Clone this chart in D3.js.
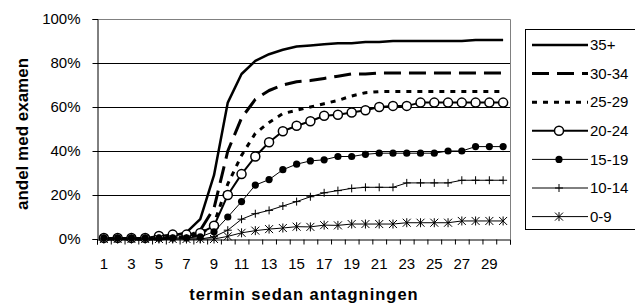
<!DOCTYPE html>
<html>
<head>
<meta charset="utf-8">
<script src="https://cdn.jsdelivr.net/npm/d3@7"></script>
<style>
  body { margin: 0; background: #fff; }
  svg { display: block; font-family: "Liberation Sans", Arial, sans-serif; }
</style>
</head>
<body>
<svg id="chart"></svg>
<script>
const width = 635
const height = 303

// terms since admission (x categories)
const terms = d3.range(1, 31)
const yTicks = [0, 20, 40, 60, 80, 100]

// share with degree (%), one array per age group
const s35 = [0,0,0,0,0,1.5,3,9,29,62,75,81,84,86,87.5,88,88.5,89,89,89.5,89.5,90,90,90,90,90,90,90.5,90.5,90.5]
const s30 = [0,0,0,0,0,0.5,1,4,14,40,55,63.5,67.5,70,71.5,72,73,74,75,75,75.5,75.5,75.5,75.5,75.5,75.5,75.5,75.5,75.5,75.5]
const s25 = [0,0,0,0,0,0.5,1,2,7,25,38,48,53,57,58.5,60,61.5,63,65,66.5,67,67,67,67,67,67,67,67,67,67]
const s20 = [0.5,0.5,0.5,0.5,1.4,2,2,2.7,6,20,29.5,37.5,44,49,51.5,53.5,56,56.5,57.5,58.5,60,60.5,60.5,62,62,62,62,62,62,62]
const s15 = [0.5,0.5,0.5,0.5,0.5,0.5,0.5,1,3.3,10,17,24.5,27,31.5,34,35.5,36,37.5,37.5,38.5,39,39,39,39,39,40,40,42,42,42]
const s10 = [0,0,0,0,0,0,0,0,1,4,9,11.5,13,15,17,19.2,21,22,23,23.5,23.5,23.5,25.5,25.5,25.5,25.5,26.7,26.7,26.7,26.7]
const s0  = [0,0,0,0,0,0,0,0,0,1.2,2.8,3.8,4.5,5,5.6,5.5,6.3,6.2,6.8,6.8,6.8,6.8,7.4,7.4,7.4,7.4,8.2,8.2,8.2,8.2]

const series = [
  { name: "35+",   values: s35, width: 2.5, dash: null,   marker: null },
  { name: "30-34", values: s30, width: 3,   dash: "17,8", marker: null },
  { name: "25-29", values: s25, width: 3,   dash: "5,6",  marker: null },
  { name: "20-24", values: s20, width: 2,   dash: null,   marker: "open" },
  { name: "15-19", values: s15, width: 1,   dash: null,   marker: "dot" },
  { name: "10-14", values: s10, width: 1,   dash: null,   marker: "plus" },
  { name: "0-9",   values: s0,  width: 1,   dash: null,   marker: "star" }
]

const plot = { left: 97, right: 510, top: 19, bottom: 239 }

const x = d3.scaleBand()
            .domain(terms)
            .range([plot.left, plot.right])
const xEdge = d3.scaleLinear()
                .domain([0.5, 30.5])
                .range([plot.left, plot.right])
const y = d3.scaleLinear()
            .domain([0, 100])
            .range([plot.bottom, plot.top])
const cx = d => x(d) + x.bandwidth() / 2

const svg = d3.select("#chart")
              .attr("width", width)
              .attr("height", height)

// gridlines
svg.append("g")
   .selectAll("line")
   .data(yTicks.filter(d => d > 0 && d < 100))
   .join("line")
     .attr("x1", plot.left)
     .attr("x2", plot.right)
     .attr("y1", d => Math.round(y(d)) + 0.5)
     .attr("y2", d => Math.round(y(d)) + 0.5)
     .attr("stroke", "#000")

// plot area border (top / right)
svg.append("path")
   .attr("d", `M${plot.left},${plot.top + 0.5}H${plot.right + 0.5}V${plot.bottom}`)
   .attr("fill", "none")
   .attr("stroke", "#808080")

// y axis
const yAxis = svg.append("g")
   .attr("transform", `translate(${plot.left + 0.5},0)`)
   .call(d3.axisLeft(y).tickValues(yTicks).tickSize(5).tickPadding(12)
           .tickFormat(d => d + "%").offset(0.5))
yAxis.select(".domain").attr("stroke", "#000")
yAxis.selectAll("text").attr("font-size", 15).attr("font-family", "Liberation Sans, Arial, sans-serif")

// x axis: ticks at category edges, labels on odd terms
const xTicks = svg.append("g")
   .attr("transform", `translate(0,${plot.bottom + 0.5})`)
   .call(d3.axisBottom(xEdge).tickValues(d3.range(0.5, 31, 1)).tickSize(5)
           .tickFormat("").offset(0.5))
xTicks.select(".domain").attr("stroke", "#000")

const xLabels = svg.append("g")
   .attr("transform", `translate(0,${plot.bottom})`)
   .call(d3.axisBottom(x).tickValues(terms.filter(d => d % 2 === 1))
           .tickSize(0).tickPadding(19))
xLabels.select(".domain").remove()
xLabels.selectAll("text").attr("font-size", 15).attr("font-family", "Liberation Sans, Arial, sans-serif")

// axis titles
svg.append("text")
   .attr("x", 304)
   .attr("y", 300)
   .attr("text-anchor", "middle")
   .attr("font-size", 16.5)
   .attr("font-weight", "bold")
   .attr("letter-spacing", 1)
   .text("termin sedan antagningen")

svg.append("text")
   .attr("transform", "translate(28,134) rotate(-90)")
   .attr("text-anchor", "middle")
   .attr("font-size", 17)
   .attr("font-weight", "bold")
   .text("andel med examen")

// markers
function marker(sel, type) {
  if (type === "open") {
    sel.append("circle").attr("r", 4.5).attr("fill", "#fff").attr("stroke", "#000").attr("stroke-width", 1.5)
  } else if (type === "dot") {
    sel.append("circle").attr("r", 3.6).attr("fill", "#000")
  } else if (type === "plus") {
    sel.append("path").attr("d", "M-4,0H4M0,-4V4").attr("stroke", "#000").attr("stroke-width", 1)
  } else if (type === "star") {
    sel.append("path").attr("d", "M-4,-4L4,4M-4,4L4,-4M0,-4.5V4.5").attr("stroke", "#000").attr("stroke-width", 1)
  }
}

const line = d3.line()
               .x((d, i) => cx(terms[i]))
               .y(d => y(d))

series.forEach(s => {
  const g = svg.append("g")
  g.append("path")
   .attr("d", line(s.values))
   .attr("fill", "none")
   .attr("stroke", "#000")
   .attr("stroke-width", s.width)
   .attr("stroke-dasharray", s.dash)
   .attr("stroke-linejoin", "round")
  if (s.marker) {
    g.selectAll("g")
     .data(s.values)
     .join("g")
       .attr("transform", (d, i) => `translate(${cx(terms[i])},${y(d)})`)
       .each(function() { marker(d3.select(this), s.marker) })
  }
})

// legend
const legend = svg.append("g")
legend.append("rect")
      .attr("x", 525.5)
      .attr("y", 29.5)
      .attr("width", 120)
      .attr("height", 200)
      .attr("fill", "#fff")
      .attr("stroke", "#000")

const item = legend.selectAll("g.item")
   .data(series)
   .join("g")
     .attr("class", "item")
     .attr("transform", (d, i) => `translate(0,${45 + i * 28.6})`)

item.append("line")
    .attr("x1", 532)
    .attr("x2", 588)
    .attr("stroke", "#000")
    .attr("stroke-width", d => d.width)
    .attr("stroke-dasharray", d => d.dash)

item.each(function(d) {
  if (d.marker) {
    marker(d3.select(this).append("g").attr("transform", "translate(559,0)"), d.marker)
  }
})

item.append("text")
    .attr("x", 590)
    .attr("dy", "0.35em")
    .attr("font-size", 15)
    .text(d => d.name)
</script>
</body>
</html>
